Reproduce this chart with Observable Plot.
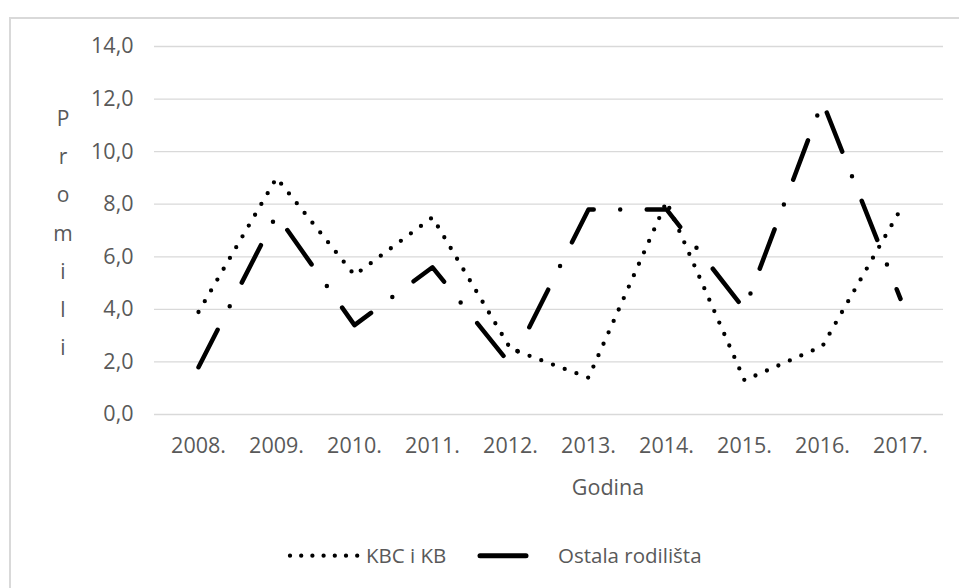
<!DOCTYPE html>
<html>
<head>
<meta charset="utf-8">
<script src="https://cdn.jsdelivr.net/npm/d3@7"></script>
<script src="https://cdn.jsdelivr.net/npm/@observablehq/plot@0.6"></script>
<style>
  html, body { margin: 0; padding: 0; background: #fff; width: 959px; height: 588px; overflow: hidden; }
  #frame { position: absolute; left: 9px; top: 17px; width: 1000px; height: 700px; border: 2px solid #d9d9d9; box-sizing: border-box; }
  #chart { position: absolute; left: 0; top: 0; }
  .txt { position: absolute; font-family: "Open Sans", sans-serif; font-size: 21px; color: #595959; white-space: nowrap; }
  #ytitle { left: 53px; width: 20px; top: 99px; line-height: 38.2px; text-align: center; }
  #xtitle { left: 608px; top: 477px; line-height: 20px; transform: translateX(-50%); font-size: 21.5px; }
  #legend { position: absolute; left: 0; top: 530px; }
</style>
</head>
<body>
<div id="frame"></div>
<div id="chart"></div>
<div id="ytitle" class="txt"></div>
<div id="xtitle" class="txt">Godina</div>
<svg id="legend" width="959" height="50"></svg>
<script>
// Stopa po godinama (promili)
const years = ["2008.", "2009.", "2010.", "2011.", "2012.", "2013.", "2014.", "2015.", "2016.", "2017."];
const kbcKb = [3.9, 9.0, 5.3, 7.5, 2.5, 1.4, 8.1, 1.3, 2.6, 7.8];
const ostala = [1.8, 7.6, 3.4, 5.6, 1.9, 7.8, 7.8, 4.0, 11.9, 4.4];
const yTicks = [0, 2, 4, 6, 8, 10, 12, 14];
const seriesNames = ["KBC i KB", "Ostala rodilišta"];
const yTitle = "Promili";

const rows = years.map((year, i) => ({year, kbc: kbcKb[i], ostala: ostala[i]}));
const fmt = v => d3.format(".1f")(v).replace(".", ",");

const dotted = {stroke: "black", strokeWidth: 4.3, strokeDasharray: "0 12.5", strokeLinecap: "round", strokeLinejoin: "round"};
const dashDot = {stroke: "black", strokeWidth: 4.5, strokeDasharray: "42 26.5 0 26.5", strokeLinecap: "round", strokeLinejoin: "round"};

const chart = Plot.plot({
  width: 959,
  height: 470,
  marginLeft: 154,
  marginRight: 16,
  marginTop: 46,
  marginBottom: 56,
  style: {fontFamily: '"Open Sans", sans-serif', fontSize: "21.5px", color: "#595959", background: "transparent", overflow: "visible"},
  x: {type: "point", domain: years, padding: 0.5, label: null, tickSize: 0, tickPadding: 23},
  y: {domain: [0, 14], ticks: yTicks, tickFormat: fmt, label: null, tickSize: 0, tickPadding: 21},
  marks: [
    Plot.gridY(yTicks, {stroke: "#d9d9d9", strokeOpacity: 1, strokeWidth: 1.3}),
    Plot.lineY(rows, {x: "year", y: "kbc", ...dotted}),
    Plot.lineY(rows, {x: "year", y: "ostala", ...dashDot})
  ]
});
document.getElementById("chart").append(chart);

// Naslov osi Y, slovo po slovo
document.getElementById("ytitle").innerHTML = [...yTitle].map(c => `<div>${c}</div>`).join("");

// Legenda
const lg = d3.select("#legend");
const ly = 25.7;
lg.append("line").attr("x1", 290).attr("x2", 357.5).attr("y1", ly).attr("y2", ly)
  .attr("stroke", "black").attr("stroke-width", 4.3).attr("stroke-dasharray", "0 11.2").attr("stroke-linecap", "round");
lg.append("text").attr("x", 366).attr("y", ly + 7).text(seriesNames[0])
  .attr("font-family", '"Open Sans", sans-serif').attr("font-size", 20.5).attr("fill", "#595959");
lg.append("line").attr("x1", 480).attr("x2", 526).attr("y1", ly).attr("y2", ly)
  .attr("stroke", "black").attr("stroke-width", 5).attr("stroke-linecap", "round");
lg.append("text").attr("x", 558).attr("y", ly + 7).text(seriesNames[1])
  .attr("font-family", '"Open Sans", sans-serif').attr("font-size", 20.5).attr("fill", "#595959");
</script>
</body>
</html>
